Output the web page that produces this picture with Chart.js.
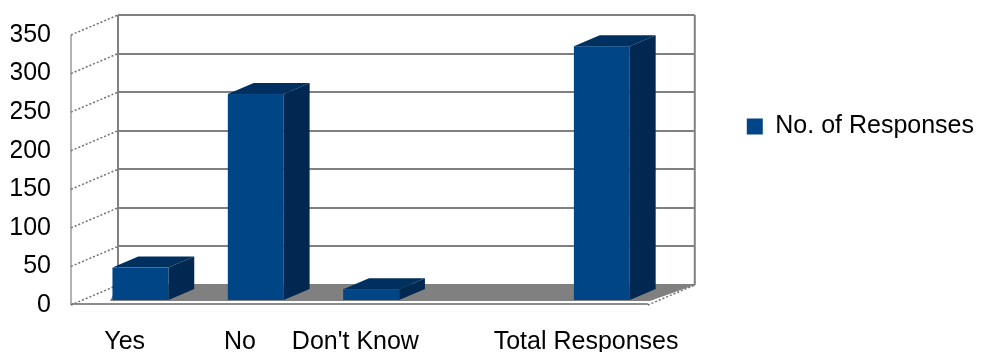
<!DOCTYPE html>
<html>
<head>
  <script src="https://cdnjs.cloudflare.com/ajax/libs/Chart.js/4.4.1/chart.umd.min.js"></script>
  <style>
    body {
      margin: 0;
      background: #ffffff;
    }
    .wrap {
      width: 1007px;
      height: 356px;
    }
  </style>
</head>
<body>
  <div class="wrap">
    <canvas id="responsesChart"></canvas>
  </div>

  <script>
    const categories = ['Yes', 'No', "Don't Know", '', 'Total Responses'];
    const responses = [42, 267, 14, null, 329];
    const seriesName = 'No. of Responses';
    const yMax = 350;
    const yStep = 50;

    // 3D look: offset of the back wall from the front plane, and where bars sit in depth
    const wallDepth = { x: 47, y: -20 };
    const barDepth = [0.25, 0.8];

    const barFront = '#004586';
    const barTop = '#00305f';
    const barSide = '#002850';

    function line(ctx, x1, y1, x2, y2) {
      ctx.beginPath();
      ctx.moveTo(x1, y1);
      ctx.lineTo(x2, y2);
      ctx.stroke();
    }

    // draws walls, floor and the bars as prisms, replacing the flat bars
    const box3d = {
      id: 'box3d',
      beforeDatasetsDraw(chart) {
        const { ctx, chartArea: a, scales: { y } } = chart;
        const dx = wallDepth.x, dy = wallDepth.y;
        const y0 = y.getPixelForValue(0);
        const yTop = y.getPixelForValue(y.max);
        ctx.save();

        // floor
        ctx.fillStyle = '#808080';
        ctx.beginPath();
        ctx.moveTo(a.left + dx, y0 + dy);
        ctx.lineTo(a.right + dx, y0 + dy);
        ctx.lineTo(a.right + 2, y0 - 4);
        ctx.lineTo(a.left + dx - 8, y0 - 4);
        ctx.closePath();
        ctx.fill();
        ctx.strokeStyle = '#8c8c8c';
        ctx.lineWidth = 2;
        line(ctx, a.left, y0 - 1, a.right, y0 - 1);

        // back wall
        ctx.strokeStyle = '#808080';
        ctx.lineWidth = 2;
        y.ticks.forEach(t => {
          const py = Math.round(y.getPixelForValue(t.value) + dy);
          line(ctx, a.left + dx, py, a.right + dx, py);
        });
        line(ctx, a.left + dx, yTop + dy, a.left + dx, y0 + dy);
        line(ctx, a.right + dx, yTop + dy, a.right + dx, y0 + dy);

        // side wall
        ctx.strokeStyle = '#9a9a9a';
        ctx.lineWidth = 1.5;
        line(ctx, a.left, yTop, a.left, y0);
        ctx.setLineDash([2, 2]);
        ctx.strokeStyle = '#707070';
        y.ticks.forEach(t => {
          const py = y.getPixelForValue(t.value);
          line(ctx, a.left, py, a.left + dx, py + dy);
        });
        line(ctx, a.right, y0, a.right + dx, y0 + dy);
        ctx.setLineDash([]);

        // bars
        const [f1, f2] = barDepth;
        const bx = (f2 - f1) * dx, by = (f2 - f1) * dy;
        chart.getDatasetMeta(0).data.forEach((bar, i) => {
          if (responses[i] == null) return;
          const p = bar.getProps(['x', 'y', 'base', 'width'], true);
          const L = p.x - p.width / 2 + f1 * dx;
          const R = L + p.width;
          const T = p.y + f1 * dy;
          const B = p.base + f1 * dy;

          ctx.fillStyle = barTop;
          ctx.beginPath();
          ctx.moveTo(L, T);
          ctx.lineTo(R, T);
          ctx.lineTo(R + bx, T + by);
          ctx.lineTo(L + bx, T + by);
          ctx.closePath();
          ctx.fill();

          ctx.fillStyle = barSide;
          ctx.beginPath();
          ctx.moveTo(R, T);
          ctx.lineTo(R + bx, T + by);
          ctx.lineTo(R + bx, B + by);
          ctx.lineTo(R, B);
          ctx.closePath();
          ctx.fill();

          ctx.fillStyle = barFront;
          ctx.fillRect(L, T, p.width, B - T);
        });

        ctx.restore();
        return false;
      }
    };

    const font = { family: "'Liberation Sans', Arial, sans-serif", size: 25 };

    new Chart(document.getElementById('responsesChart'), {
      type: 'bar',
      data: {
        labels: categories,
        datasets: [{
          label: seriesName,
          data: responses,
          backgroundColor: barFront,
          borderWidth: 0,
          barPercentage: 0.485,
          categoryPercentage: 1.0
        }]
      },
      options: {
        responsive: true,
        maintainAspectRatio: false,
        animation: false,
        layout: {
          padding: { left: 11, right: 23, top: 15, bottom: 4 }
        },
        plugins: {
          tooltip: { enabled: false },
          title: {
            display: true,
            text: ' ',
            fullSize: false,
            font: { size: 10 },
            padding: { top: 0, bottom: 4 }
          },
          legend: {
            position: 'right',
            align: 'start',
            maxWidth: 340,
            labels: {
              boxWidth: 16,
              boxHeight: 16,
              padding: 99,
              color: '#000',
              font: font
            }
          }
        },
        scales: {
          x: {
            grid: { display: false, drawTicks: false },
            border: { display: false },
            afterFit(scale) { scale.height = 47; },
            ticks: {
              color: '#000',
              font: font,
              padding: 22,
              labelOffset: -4,
              maxRotation: 0,
              minRotation: 0,
              autoSkip: false
            }
          },
          y: {
            min: 0,
            max: yMax,
            grid: { display: false, drawTicks: false },
            border: { display: false },
            afterFit(scale) { scale.width = 60; },
            ticks: {
              stepSize: yStep,
              color: '#000',
              font: font,
              padding: 20
            }
          }
        }
      },
      plugins: [box3d]
    });
  </script>
</body>
</html>
